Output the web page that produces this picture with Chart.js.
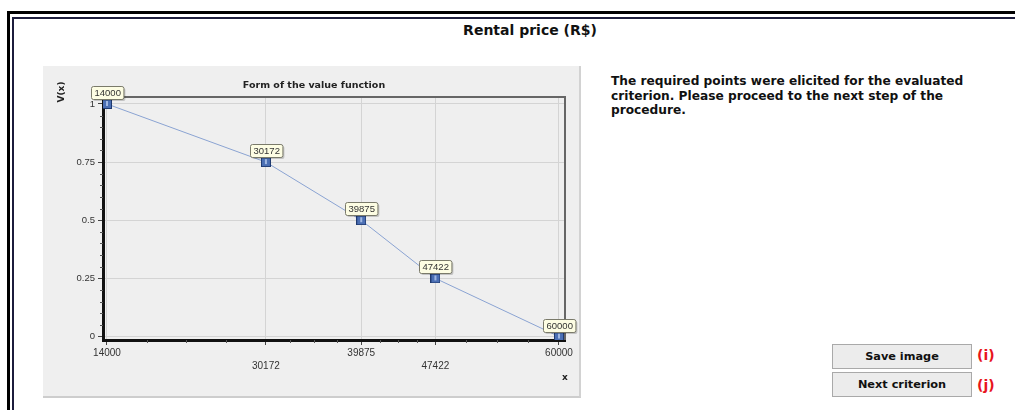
<!DOCTYPE html>
<html>
<head>
<meta charset="utf-8">
<script src="https://cdn.jsdelivr.net/npm/chart.js@4.4.1/dist/chart.umd.min.js"></script>
<style>
  body { margin:0; background:#fff; width:1015px; height:410px; overflow:hidden; position:relative; font-family:"DejaVu Sans", Verdana, sans-serif; }
  #frame1 { position:absolute; left:7px; top:11px; width:1100px; height:500px; border-top:3px solid #000; border-left:3px solid #000; }
  #frame2 { position:absolute; left:12px; top:17px; width:1100px; height:500px; border-top:2px solid #1c1c3c; border-left:2px solid #1c1c3c; }
  #title { position:absolute; left:400px; width:260px; top:22px; text-align:center; font-weight:bold; font-size:14px; color:#111; }
  #panel { position:absolute; left:43px; top:66px; width:536px; height:330px; background:#efefef; border-right:2px solid #d2d2d2; border-bottom:2px solid #cdcdcd; }
  #msg { position:absolute; left:611px; top:74px; width:400px; font-weight:bold; font-size:12.2px; line-height:14.6px; color:#111; }
  .btn { position:absolute; left:832px; width:138px; height:23px; background:#ececec; border:1px solid #a9a9a9; text-align:center; line-height:23px; font-weight:bold; font-size:11.3px; color:#111; }
  .tag { position:absolute; left:977px; font-weight:bold; font-size:14px; color:#e8141c; }
</style>
</head>
<body>
<div id="frame1"></div>
<div id="frame2"></div>
<div id="title">Rental price (R$)</div>
<div id="panel"><canvas id="myChart" width="536" height="330"></canvas></div>
<div id="msg">The required points were elicited for the evaluated<br>criterion. Please proceed to the next step of the<br>procedure.</div>
<div class="btn" style="top:344px">Save image</div>
<div class="btn" style="top:372px">Next criterion</div>
<div class="tag" style="top:347px">(i)</div>
<div class="tag" style="top:377px">(j)</div>
<script>
var xValues = [14000, 30172, 39875, 47422, 60000];
var vValues = [1, 0.75, 0.5, 0.25, 0];
var yTicks = [0, 0.25, 0.5, 0.75, 1];

// square marker like the original app
var marker = document.createElement('canvas');
marker.width = 10; marker.height = 10;
var m = marker.getContext('2d');
m.fillStyle = '#1f3a70'; m.fillRect(0, 0, 10, 10);
m.fillStyle = '#4b6fb4'; m.fillRect(1, 1, 8, 8);
m.fillStyle = '#9fb7e2'; m.fillRect(4, 2, 2, 5);

var extras = {
  id: 'extras',
  afterDraw: function(chart) {
    var c = chart.ctx, a = chart.chartArea;
    var xs = chart.scales.x, ys = chart.scales.y;
    c.save();
    // top and right frame of plot
    c.strokeStyle = '#666'; c.lineWidth = 2;
    c.beginPath();
    c.moveTo(a.left, a.top); c.lineTo(a.right, a.top); c.lineTo(a.right, a.bottom);
    c.stroke();
    // minor ticks
    c.strokeStyle = '#555'; c.lineWidth = 1;
    c.beginPath();
    for (var i = 0; i < xValues.length - 1; i++) {
      for (var k = 1; k < 4; k++) {
        var px = Math.round(xs.getPixelForValue(xValues[i] + (xValues[i + 1] - xValues[i]) * k / 4)) + 0.5;
        c.moveTo(px, a.bottom); c.lineTo(px, a.bottom + 3);
      }
    }
    for (var j = 1; j < 20; j++) {
      if (j % 5 == 0) continue;
      var py = Math.round(ys.getPixelForValue(j * 0.05)) + 0.5;
      c.moveTo(a.left - 3, py); c.lineTo(a.left, py);
    }
    c.stroke();
    // texts
    c.fillStyle = '#222';
    c.font = 'bold 9.5px "DejaVu Sans"';
    c.textAlign = 'center'; c.textBaseline = 'middle';
    c.fillText('Form of the value function', 271, 20);
    c.font = 'bold 9px "DejaVu Sans"';
    c.fillText('x', 522, 312);
    c.save();
    c.translate(19, 26); c.rotate(-Math.PI / 2);
    c.fillText('V(x)', 0, 0);
    c.restore();
    // value labels
    var meta = chart.getDatasetMeta(0);
    c.font = '9.5px "Liberation Sans"';
    meta.data.forEach(function(pt, idx) {
      var txt = String(xValues[idx]);
      var w = c.measureText(txt).width + 6, h = 13;
      var bx = Math.round(pt.x - w / 2) + 0.5, by = Math.round(pt.y - 5 - h) + 0.5;
      c.fillStyle = 'rgba(0,0,0,0.18)';
      c.beginPath(); c.roundRect(bx + 1.5, by + 1.5, w, h, 2); c.fill();
      c.fillStyle = '#fdfde3'; c.strokeStyle = '#7a7a6a'; c.lineWidth = 1;
      c.beginPath(); c.roundRect(bx, by, w, h, 2); c.fill(); c.stroke();
      c.fillStyle = '#333';
      c.fillText(txt, bx + w / 2, by + h / 2 + 0.5);
    });
    c.restore();
  }
};

var ctx = document.getElementById('myChart').getContext('2d');
var valueChart = new Chart(ctx, {
  type: 'line',
  data: {
    datasets: [{
      data: xValues.map(function(x, i) { return { x: x, y: vValues[i] }; }),
      borderColor: '#8aa3d2',
      borderWidth: 1,
      pointStyle: marker,
      pointRadius: 5
    }]
  },
  options: {
    responsive: false,
    animation: false,
    layout: { padding: { top: 31, right: 14, left: 0, bottom: 0 } },
    plugins: { legend: { display: false }, tooltip: { enabled: false } },
    scales: {
      x: {
        type: 'linear', min: 13593, max: 60611,
        afterBuildTicks: function(s) { s.ticks = xValues.map(function(v) { return { value: v }; }); },
        afterFit: function(s) { s.height = 56; },
        grid: { color: '#d4d4d4', tickColor: '#444', tickLength: 5 },
        border: { color: '#111', width: 3 },
        ticks: {
          autoSkip: false, maxRotation: 0, padding: 2, color: '#333',
          font: { family: 'Liberation Sans', size: 10, lineHeight: 1.3 },
          callback: function(v, i) { return i % 2 == 0 ? String(v) : ['', String(v)]; }
        }
      },
      y: {
        min: -0.015, max: 1.03,
        afterBuildTicks: function(s) { s.ticks = yTicks.map(function(v) { return { value: v }; }); },
        afterFit: function(s) { s.width = 60; },
        grid: { color: '#d4d4d4', tickColor: '#444', tickLength: 5 },
        border: { color: '#111', width: 3 },
        ticks: {
          padding: 3, color: '#333',
          font: { family: 'Liberation Sans', size: 9.5 },
          callback: function(v) { return String(v); }
        }
      }
    }
  },
  plugins: [extras]
});
</script>
</body>
</html>
